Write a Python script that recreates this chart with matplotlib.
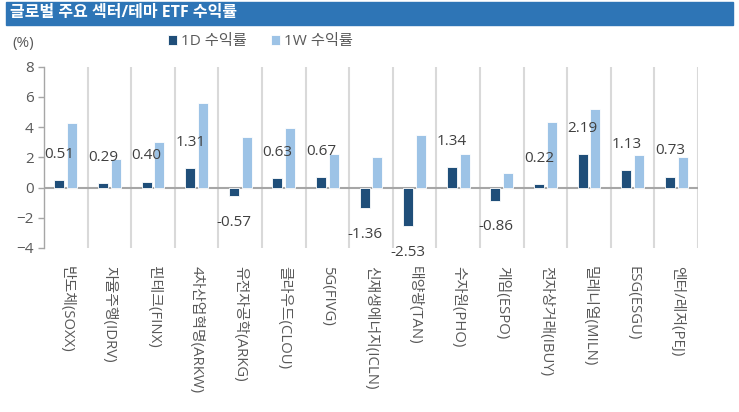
import numpy as np
import matplotlib.pyplot as plt
from matplotlib.patches import Rectangle

plt.rcParams['font.family'] = ['Open Sans', 'Noto Sans CJK KR', 'DejaVu Sans']

categories = ['반도체(SOXX)', '자율주행(IDRV)', '핀테크(FINX)', '4차산업혁명(ARKW)', '유전자공학(ARKG)',
              '클라우드(CLOU)', '5G(FIVG)', '신재생에너지(ICLN)', '태양광(TAN)', '수자원(PHO)',
              '게임(ESPO)', '전자상거래(IBUY)', '밀레니얼(MILN)', 'ESG(ESGU)', '엔터/레저(PEJ)']
ret_1d = [0.51, 0.29, 0.40, 1.31, -0.57, 0.63, 0.67, -1.36, -2.53, 1.34, -0.86, 0.22, 2.19, 1.13, 0.73]
ret_1w = [4.3, 1.9, 3.0, 5.6, 3.35, 3.95, 2.2, 2.05, 3.5, 2.25, 0.95, 4.35, 5.2, 2.15, 2.0]

c_1d = '#1F4E79'
c_1w = '#9DC3E6'
grey = '#595959'

fig = plt.figure(figsize=(7.39, 4.12), dpi=100)

# title bar
fig.patches.append(Rectangle((6 / 739, 1 - 25 / 412), 727 / 739, 23 / 412,
                             transform=fig.transFigure, color='#2E75B6', zorder=0))
fig.text(10 / 739, 1 - 13 / 412, '글로벌 주요 섹터/테마 ETF 수익률', color='white',
         fontsize=11.5, fontweight='bold', va='center', ha='left')

ax = fig.add_axes([44 / 739, 1 - 248 / 412, 654 / 739, (248 - 66.7) / 412])

x = np.arange(len(categories))
w = 0.23
ax.bar(x - 0.145, ret_1d, w, color=c_1d, edgecolor='white', linewidth=0.6, label='1D 수익률', zorder=3)
ax.bar(x + 0.145, ret_1w, w, color=c_1w, edgecolor='white', linewidth=0.6, label='1W 수익률', zorder=3)

for xi, v in zip(x, ret_1d):
    off = 1.7 if v >= 0 else -1.75
    ax.text(xi - 0.145, v + off, f'{v:.2f}', ha='center', va='center', fontsize=11,
            color='#404040', zorder=4)

ax.set_xlim(-0.5, len(categories) - 0.5)
ax.set_ylim(-4, 8)
ax.set_yticks(np.arange(-4, 9, 2))
ax.tick_params(axis='y', labelsize=11, labelcolor=grey, color='#A6A6A6', length=4, width=1)

ax.set_xticks(x)
ax.set_xticklabels(categories, rotation=270, fontsize=10.7, color=grey, va='top', ha='center')
ax.tick_params(axis='x', length=0, pad=13)

for b in np.arange(0.5, len(categories), 1):
    ax.axvline(b, color='#D9D9D9', linewidth=1.5, zorder=1)
ax.axhline(0, color='#A6A6A6', linewidth=1.5, zorder=2)

for s in ['top', 'right', 'bottom']:
    ax.spines[s].set_visible(False)
ax.spines['left'].set_color('#A6A6A6')
ax.spines['left'].set_linewidth(1)

fig.text(12 / 739, 1 - 44 / 412, '(%)', fontsize=11, color=grey, va='center', ha='left')
leg = fig.legend(loc='center', bbox_to_anchor=(0.352, 1 - 42 / 412), ncol=2, frameon=False,
                 fontsize=11, handlelength=0.6, handleheight=0.6, handletextpad=0.25,
                 columnspacing=1.6)
for t in leg.get_texts():
    t.set_color(grey)

fig.savefig('out.png', dpi=100)
